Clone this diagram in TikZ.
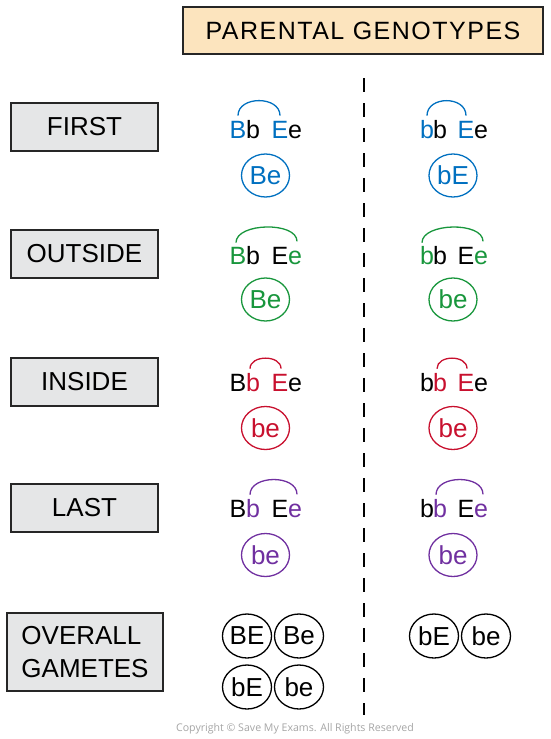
\documentclass[tikz,border=0pt]{standalone}
\usepackage{fontspec}
\setmainfont{Liberation Sans}
\newfontfamily\copyfont{Open Sans}
\usetikzlibrary{shapes.geometric}
\definecolor{gblue}{RGB}{0,112,192}
\definecolor{ggreen}{RGB}{24,150,60}
\definecolor{gred}{RGB}{200,16,46}
\definecolor{gpurple}{RGB}{112,48,160}
\definecolor{boxgray}{RGB}{229,230,231}
\definecolor{titlefill}{RGB}{252,228,190}
\definecolor{copygray}{RGB}{165,165,165}
\begin{document}
\begin{tikzpicture}[x=1pt,y=-1pt,
  labelbox/.style={draw=black!85, line width=1.4pt, fill=boxgray, minimum width=147pt, minimum height=48pt, inner sep=0pt, font=\fontsize{26}{33}\selectfont},
  titlebox/.style={draw=black!85, line width=1.4pt, fill=titlefill, minimum width=360pt, minimum height=47pt, inner sep=0pt, font=\fontsize{25}{30}\selectfont\addfontfeatures{LetterSpace=6}},
  allele/.style={anchor=base, inner sep=0pt, font=\fontsize{25}{30}\selectfont},
  gamete/.style={ellipse, draw, line width=1.3pt, minimum width=48pt, minimum height=43pt, inner sep=0pt, font=\fontsize{26}{30}\selectfont},
  link/.style={line width=1.3pt},
  divider/.style={line width=2pt, dash pattern=on 14pt off 11pt},
]
\useasboundingbox (0,0) rectangle (550,739);

% title
\node[titlebox] (title) at (363,30.5) {PARENTAL GENOTYPES};

% divider
\coordinate (dtop) at (364,78);
\coordinate (dbot) at (364,715);
\draw[divider] (dtop) -- (dbot);

% row labels
\node[labelbox] (lfirst) at (84.5,127) {FIRST};
\node[labelbox] (loutside) at (84.5,254) {OUTSIDE};
\node[labelbox] (linside) at (84.5,382) {INSIDE};
\node[labelbox] (llast) at (84.5,508) {LAST};
\node[labelbox, minimum width=156pt, minimum height=78pt, align=left] (lover) at (85,652) {OVERALL\\GAMETES};

% ---------- FIRST ----------
\node[allele, text=gblue] (fa1) at (238,138) {B};
\node[allele] (fa2) at (253,138) {b};
\node[allele, text=gblue] (fa3) at (280,138) {E};
\node[allele] (fa4) at (295,138) {e};
\node[allele, text=gblue] (fb1) at (427,138) {b};
\node[allele] (fb2) at (440,138) {b};
\node[allele, text=gblue] (fb3) at (466,138) {E};
\node[allele] (fb4) at (481,138) {e};
\draw[link, gblue] ([yshift=5pt]fa1.north) .. controls +(0,-20) and +(0,-20) .. ([yshift=5pt]fa3.north);
\draw[link, gblue] ([yshift=4pt]fb1.north) .. controls +(0,-20) and +(0,-20) .. ([yshift=5pt]fb3.north);
\node[gamete, draw=gblue, text=gblue] (fga) at (265.5,175.5) {Be};
\node[gamete, draw=gblue, text=gblue] (fgb) at (453,175.5) {bE};

% ---------- OUTSIDE ----------
\node[allele, text=ggreen] (oa1) at (238,264) {B};
\node[allele] (oa2) at (253,264) {b};
\node[allele] (oa3) at (280,264) {E};
\node[allele, text=ggreen] (oa4) at (295,264) {e};
\node[allele, text=ggreen] (ob1) at (427,264) {b};
\node[allele] (ob2) at (440,264) {b};
\node[allele] (ob3) at (466,264) {E};
\node[allele, text=ggreen] (ob4) at (481,264) {e};
\draw[link, ggreen] ([xshift=-2pt,yshift=4pt]oa1.north) .. controls +(0,-20) and +(0,-20) .. ([xshift=2pt,yshift=9pt]oa4.north);
\draw[link, ggreen] ([xshift=-5pt,yshift=3pt]ob1.north) .. controls +(0,-20) and +(0,-20) .. ([xshift=2pt,yshift=9pt]ob4.north);
\node[gamete, draw=ggreen, text=ggreen] (oga) at (265.5,299.5) {Be};
\node[gamete, draw=ggreen, text=ggreen] (ogb) at (453,299.5) {be};

% ---------- INSIDE ----------
\node[allele] (ia1) at (238,391) {B};
\node[allele, text=gred] (ia2) at (253,391) {b};
\node[allele, text=gred] (ia3) at (280,391) {E};
\node[allele] (ia4) at (295,391) {e};
\node[allele] (ib1) at (427,391) {b};
\node[allele, text=gred] (ib2) at (440,391) {b};
\node[allele, text=gred] (ib3) at (466,391) {E};
\node[allele] (ib4) at (481,391) {e};
\draw[link, gred] ([xshift=-3pt,yshift=4pt]ia2.north) .. controls +(0,-14) and +(0,-14) .. ([xshift=1pt,yshift=5pt]ia3.north);
\draw[link, gred] ([xshift=-3pt,yshift=4pt]ib2.north) .. controls +(0,-14) and +(0,-14) .. ([xshift=1pt,yshift=5pt]ib3.north);
\node[gamete, draw=gred, text=gred] (iga) at (265.5,428) {be};
\node[gamete, draw=gred, text=gred] (igb) at (453,428) {be};

% ---------- LAST ----------
\node[allele] (sa1) at (238,517) {B};
\node[allele, text=gpurple] (sa2) at (253,517) {b};
\node[allele] (sa3) at (280,517) {E};
\node[allele, text=gpurple] (sa4) at (295,517) {e};
\node[allele] (sb1) at (427,517) {b};
\node[allele, text=gpurple] (sb2) at (440,517) {b};
\node[allele] (sb3) at (466,517) {E};
\node[allele, text=gpurple] (sb4) at (481,517) {e};
\draw[link, gpurple] ([xshift=-3pt,yshift=4pt]sa2.north) .. controls +(0,-20) and +(0,-20) .. ([xshift=2pt,yshift=9pt]sa4.north);
\draw[link, gpurple] ([xshift=-4pt,yshift=4pt]sb2.north) .. controls +(0,-20) and +(0,-20) .. ([xshift=2pt,yshift=9pt]sb4.north);
\node[gamete, draw=gpurple, text=gpurple] (sga) at (265.5,555) {be};
\node[gamete, draw=gpurple, text=gpurple] (sgb) at (453,555) {be};

% ---------- OVERALL GAMETES ----------
\node[gamete, minimum width=49pt, minimum height=44pt] (g1) at (247,636) {BE};
\node[gamete, minimum width=49pt, minimum height=44pt] (g2) at (299,636) {Be};
\node[gamete, minimum width=49pt, minimum height=44pt] (g3) at (247,687) {bE};
\node[gamete, minimum width=49pt, minimum height=44pt] (g4) at (299,687) {be};
\node[gamete, minimum width=49pt, minimum height=44pt] (g5) at (434,636) {bE};
\node[gamete, minimum width=49pt, minimum height=44pt] (g6) at (486,636) {be};

% copyright
\node[text=copygray, font=\copyfont\fontsize{10.6}{12}\selectfont, inner sep=0pt] (copy) at (295,729) {Copyright \textcopyright\ Save My Exams. All Rights Reserved};
\end{tikzpicture}
\end{document}
